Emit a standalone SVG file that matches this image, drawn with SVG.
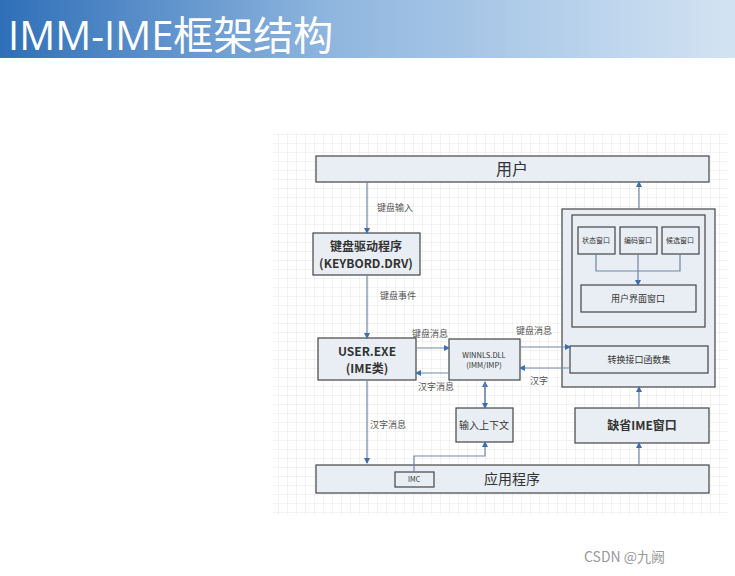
<svg xmlns="http://www.w3.org/2000/svg" width="735" height="576" viewBox="0 0 735 576">
<defs>
<linearGradient id="bg" x1="0" x2="1" y1="0" y2="0">
<stop offset="0" stop-color="#2f6fb8"/><stop offset="0.45" stop-color="#8fb6df"/><stop offset="1" stop-color="#d3e3f3"/>
</linearGradient>
<pattern id="grid" width="9" height="9" patternUnits="userSpaceOnUse">
<path d="M9 0V9H0" fill="none" stroke="#d6d6d6" stroke-width="0.6"/>
</pattern>
<marker id="ar" markerWidth="6" markerHeight="6" refX="5" refY="3" orient="auto" markerUnits="userSpaceOnUse">
<path d="M0,0L6,3L0,6z" fill="#3a6fb0"/>
</marker>
</defs>
<style>
.b{fill:#e9eef4;stroke:#444;stroke-width:1.2}
.t{font-family:"Noto Sans CJK SC","Liberation Serif",serif;fill:#333;text-anchor:middle}
.l{font-family:"Noto Sans CJK SC",serif;fill:#555;font-size:9px}
.c{fill:none;stroke:#6d87a8;stroke-width:1.2}
.a{marker-end:url(#ar)}
</style>
<rect width="735" height="576" fill="#fff"/>
<rect x="0" y="0" width="735" height="58" fill="url(#bg)"/>
<text x="8" y="50" font-family="'Open Sans','Noto Sans CJK SC',sans-serif" font-size="40" fill="#fff">IMM-IME框架结构</text>
<rect x="273" y="133" width="455" height="382" fill="url(#grid)"/>
<g id="user"><rect class="b" x="316" y="156" width="393" height="26"/><text class="t" x="512" y="175" font-size="16">用户</text></g>
<g id="kbd"><rect class="b" x="313" y="233" width="107" height="42"/><text class="t" x="366" y="251" font-size="12" font-weight="bold">键盘驱动程序</text><text class="t" x="366" y="268" font-size="12" font-weight="bold" font-family="Liberation Serif">(KEYBORD.DRV)</text></g>
<g id="userexe"><rect class="b" x="318" y="338" width="98" height="42"/><text class="t" x="367" y="356" font-size="12" font-weight="bold" font-family="Liberation Serif">USER.EXE</text><text class="t" x="367" y="373" font-size="12" font-weight="bold">(IME类)</text></g>
<g id="winnls"><rect class="b" x="449" y="339" width="71" height="41"/><text class="t" x="484" y="358" font-size="7.5" font-family="Liberation Serif">WINNLS.DLL</text><text class="t" x="484" y="368" font-size="7.5" font-family="Liberation Serif">(IMM/IMP)</text></g>
<g id="ctx"><rect class="b" x="456" y="408" width="57" height="34"/><text class="t" x="484" y="429" font-size="10">输入上下文</text></g>
<g id="app"><rect class="b" x="316" y="465" width="393" height="28"/><text class="t" x="512" y="484" font-size="14">应用程序</text></g>
<g id="imc"><rect class="b" x="395" y="472" width="39" height="15"/><text class="t" x="414" y="482" font-size="7" font-family="Liberation Serif">IMC</text></g>
<g id="ime"><rect class="b" x="562" y="209" width="153" height="178"/><rect class="b" x="572" y="215" width="133" height="112"/></g>
<g id="state"><rect class="b" x="578" y="227" width="37" height="27"/><text class="t" x="596" y="243" font-size="7">状态窗口</text></g>
<g id="code"><rect class="b" x="620" y="227" width="37" height="27"/><text class="t" x="638" y="243" font-size="7">编码窗口</text></g>
<g id="cand"><rect class="b" x="662" y="227" width="37" height="27"/><text class="t" x="680" y="243" font-size="7">候选窗口</text></g>
<g id="ui"><rect class="b" x="581" y="285" width="115" height="27"/><text class="t" x="638" y="302" font-size="9">用户界面窗口</text></g>
<g id="conv"><rect class="b" x="570" y="346" width="138" height="27"/><text class="t" x="639" y="363" font-size="9">转换接口函数集</text></g>
<g id="default"><rect class="b" x="575" y="408" width="134" height="35"/><text class="t" x="642" y="430" font-size="12" font-weight="bold">缺省IME窗口</text></g>
<g id="connectors">
<path class="c a" d="M367 182V233"/>
<path class="c a" d="M367 275V338"/>
<path class="c a" d="M367 380V463"/>
<path class="c a" d="M416 348H449"/>
<path class="c a" d="M449 373H416"/>
<path class="c a" d="M520 347H570"/>
<path class="c a" d="M570 368H520"/>
<path class="c a" d="M485 408V382"/>
<path class="c a" d="M485 382V408"/>
<path class="c a" d="M414 472V456H485V442"/>
<path class="c a" d="M639 465V443"/>
<path class="c a" d="M639 408V387"/>
<path class="c a" d="M639 209V182"/>
<path class="c" d="M596 254V271H680V254"/>
<path class="c a" d="M638 254V285"/>
<text class="l" x="377" y="211">键盘输入</text>
<text class="l" x="380" y="299">键盘事件</text>
<text class="l" x="412" y="337">键盘消息</text>
<text class="l" x="418" y="390">汉字消息</text>
<text class="l" x="516" y="334">键盘消息</text>
<text class="l" x="530" y="384">汉字</text>
<text class="l" x="370" y="428">汉字消息</text>
</g>
<text x="584" y="562" font-family="'Noto Sans CJK SC',sans-serif" font-size="14" fill="#999">CSDN @九阙</text>
</svg>
